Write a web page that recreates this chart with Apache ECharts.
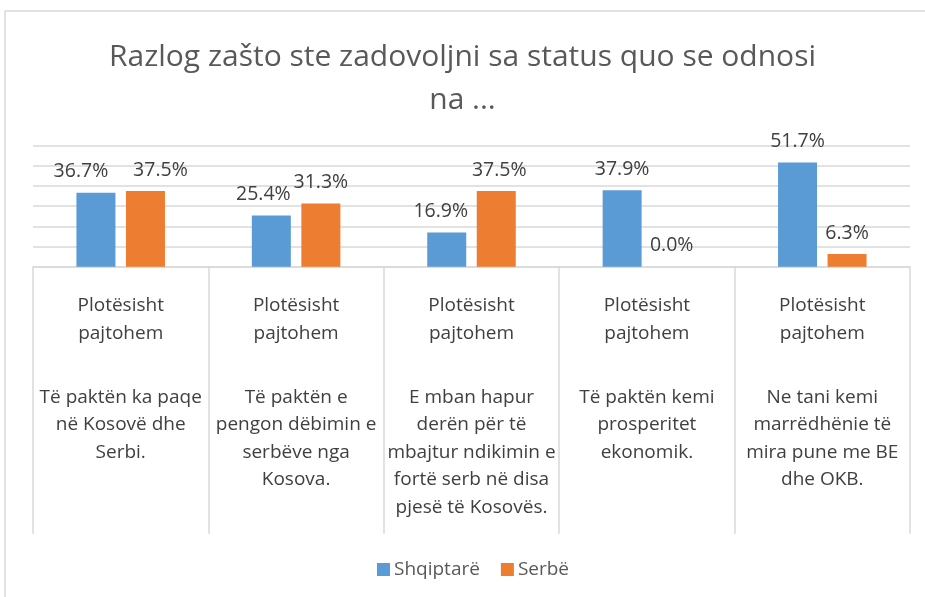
<!DOCTYPE html>
<html>
<head>
<meta charset="utf-8">
<script src="https://cdn.jsdelivr.net/npm/echarts@6/dist/echarts.min.js"></script>
<style>
html,body{margin:0;padding:0;background:#fff;}
#chart{width:925px;height:597px;}
</style>
</head>
<body>
<div id="chart"></div>
<script>
var titleText = 'Razlog zašto ste zadovoljni sa status quo se odnosi\nna ...';
var agreeText = 'Plotësisht\npajtohem';
var reasons = [
  'Të paktën ka paqe\nnë Kosovë dhe\nSerbi.',
  'Të paktën e\npengon dëbimin e\nserbëve nga\nKosova.',
  'E mban hapur\nderën për të\nmbajtur ndikimin e\nfortë serb në disa\npjesë të Kosovës.',
  'Të paktën kemi\nprosperitet\nekonomik.',
  'Ne tani kemi\nmarrëdhënie të\nmira pune me BE\ndhe OKB.'
];
var seriesNames = ['Shqiptarë', 'Serbë'];
var shqiptare = [36.7, 25.4, 16.9, 37.9, 51.7];
var serbe = [37.5, 31.3, 37.5, 0.0, 6.3];
var yTicks = [0, 10, 20, 30, 40, 50, 60];

// label nudges (layout only, as in the original where overlapping labels were shifted)
var nudgeA = [-15, -8, -6, 0, 0];
var nudgeB = [15, 0, 3, 0, 0];

var categories = reasons.map(function (r) { return agreeText + '\n\n' + r; });

function mkData(vals, nudges) {
  return vals.map(function (v, i) {
    return { value: v, label: { offset: [nudges[i], 0] } };
  });
}

var chart = echarts.init(document.getElementById('chart'));
var labelStyle = {
  show: true, position: 'top', distance: 11,
  fontFamily: 'Open Sans', fontSize: 19.5, color: '#404040',
  formatter: function (p) { return p.value.toFixed(1) + '%'; }
};
chart.setOption({
  animation: false,
  title: {
    text: titleText, left: 'center', top: 31, padding: [5, 0, 5, 10],
    textStyle: { fontFamily: 'Open Sans', fontSize: 30, fontWeight: 'normal', color: '#595959', lineHeight: 43 }
  },
  graphic: [{
    type: 'rect', shape: { x: 5, y: 11, width: 1000, height: 1000 },
    style: { fill: 'none', stroke: '#d9d9d9', lineWidth: 1.5 }, silent: true, z: -1
  }],
  legend: {
    data: seriesNames, bottom: 13, left: 372,
    itemWidth: 13, itemHeight: 13, itemGap: 21, icon: 'rect',
    textStyle: { fontFamily: 'Open Sans', fontSize: 19, color: '#595959', padding: [0, 0, 0, -1] }
  },
  grid: { left: 33, right: 15, top: 145.7, bottom: 330.3, containLabel: false },
  xAxis: {
    type: 'category', data: categories,
    axisLine: { lineStyle: { color: '#d9d9d9', width: 1.5 } },
    axisTick: { show: true, length: 267, lineStyle: { color: '#d9d9d9', width: 1.5 } },
    axisLabel: {
      interval: 0, margin: 25.5, color: '#404040',
      formatter: function (v) {
        var parts = v.split('\n\n');
        return '{a|' + parts[0] + '}\n{g| }\n{a|' + parts[1] + '}';
      },
      rich: {
        a: { fontFamily: 'Open Sans', fontSize: 19, lineHeight: 27.5, color: '#404040', align: 'center' },
        g: { fontSize: 4, lineHeight: 36.5 }
      }
    }
  },
  yAxis: {
    type: 'value', min: yTicks[0], max: yTicks[yTicks.length - 1], interval: 10,
    axisLabel: { show: false }, axisLine: { show: false }, axisTick: { show: false },
    splitLine: { lineStyle: { color: '#d9d9d9', width: 1.5 } }
  },
  series: [
    { name: seriesNames[0], type: 'bar', data: mkData(shqiptare, nudgeA), barWidth: 39, barGap: '27%',
      itemStyle: { color: '#5B9BD5' }, label: labelStyle },
    { name: seriesNames[1], type: 'bar', data: mkData(serbe, nudgeB), barWidth: 39, barGap: '27%',
      itemStyle: { color: '#ED7D31' }, label: labelStyle }
  ]
});
</script>
</body>
</html>
